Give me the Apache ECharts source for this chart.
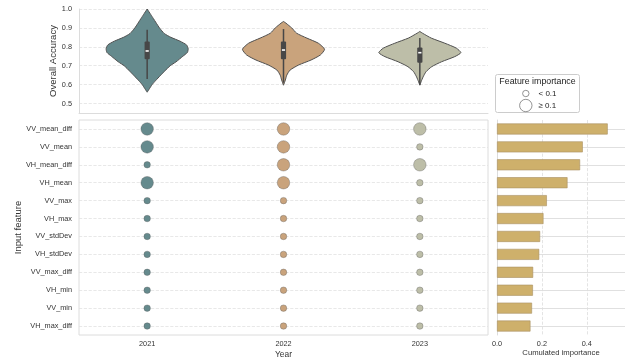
<!DOCTYPE html>
<html><head><meta charset="utf-8">
<script src="https://cdn.jsdelivr.net/npm/echarts@6/dist/echarts.min.js"></script>
<style>html,body{margin:0;padding:0;background:#fff}#c{width:625px;height:360px}</style>
</head><body><div id="c"></div>
<script>
// ---- data ----
const years = ['2021', '2022', '2023'];
const features = ['VV_mean_diff', 'VV_mean', 'VH_mean_diff', 'VH_mean', 'VV_max', 'VH_max',
  'VV_stdDev', 'VH_stdDev', 'VV_max_diff', 'VH_min', 'VV_min', 'VH_max_diff'];
const cumulatedImportance = [0.493, 0.382, 0.370, 0.314, 0.222, 0.207, 0.192, 0.188, 0.161, 0.160, 0.156, 0.149];
const importance2021 = [0.17, 0.15, 0.09, 0.12, 0.07, 0.07, 0.065, 0.06, 0.055, 0.05, 0.05, 0.05];
const importance2022 = [0.16, 0.16, 0.15, 0.12, 0.075, 0.065, 0.06, 0.06, 0.05, 0.055, 0.05, 0.045];
const importance2023 = [0.163, 0.072, 0.13, 0.074, 0.077, 0.072, 0.067, 0.068, 0.056, 0.055, 0.056, 0.054];
const importanceThreshold = 0.1;
// violin densities: [accuracy, relative half-width]
const violin2021 = [[1.0, 0], [0.97, 0.09], [0.95, 0.15], [0.9, 0.3], [0.87, 0.42], [0.85, 0.58], [0.83, 0.8], [0.81, 0.96], [0.79, 1.0], [0.77, 0.98], [0.75, 0.87], [0.72, 0.7], [0.7, 0.56], [0.67, 0.42], [0.65, 0.33], [0.62, 0.2], [0.6, 0.12], [0.58, 0.06], [0.56, 0]];
const violin2022 = [[0.934, 0], [0.925, 0.06], [0.9, 0.2], [0.872, 0.32], [0.846, 0.57], [0.819, 0.85], [0.787, 1.0], [0.757, 0.9], [0.73, 0.67], [0.704, 0.37], [0.677, 0.16], [0.65, 0.08], [0.624, 0.045], [0.597, 0]];
const violin2023 = [[0.881, 0], [0.872, 0.065], [0.846, 0.28], [0.819, 0.61], [0.793, 0.89], [0.769, 1.0], [0.748, 0.85], [0.721, 0.53], [0.695, 0.29], [0.668, 0.15], [0.641, 0.08], [0.615, 0.03], [0.597, 0]];
// box stats: [whisker low, q1, median, q3, whisker high]
const box2021 = [0.63, 0.734, 0.778, 0.828, 0.89];
const box2022 = [0.61, 0.734, 0.783, 0.828, 0.894];
const box2023 = [0.60, 0.716, 0.769, 0.796, 0.846];
const legendLabels = ['< 0.1', '≥ 0.1'];

// ---- styles ----
const FONT = 'Liberation Sans, Arial, sans-serif';
const yearColors = ['#658a8d', '#c9a37c', '#bdbea8'];
const violins = [violin2021, violin2022, violin2023];
const boxes = [box2021, box2022, box2023];
const importances = [importance2021, importance2022, importance2023];

function renderViolin(params, api) {
  const i = params.dataIndex;
  const dens = violins[i];
  const st = boxes[i];
  const band = api.size([1, 0])[0];
  const maxHalf = band * 0.301;
  const cx = api.coord([i, 0.75])[0];
  const right = dens.map(d => [cx + d[1] * maxHalf, api.coord([i, d[0]])[1]]);
  const left = dens.slice().reverse().map(d => [cx - d[1] * maxHalf, api.coord([i, d[0]])[1]]);
  const y = v => api.coord([i, v])[1];
  return {
    type: 'group',
    children: [
      { type: 'polygon', shape: { points: right.concat(left), smooth: 0.2 },
        style: { fill: yearColors[i], stroke: '#505050', lineWidth: 1 } },
      { type: 'line', shape: { x1: cx, y1: y(st[0]), x2: cx, y2: y(st[4]) },
        style: { stroke: '#474747', lineWidth: 1.5 } },
      { type: 'rect', shape: { x: cx - 2.6, y: y(st[3]), width: 5.2, height: y(st[1]) - y(st[3]), r: 1 },
        style: { fill: '#474747' } },
      { type: 'rect', shape: { x: cx - 1.6, y: y(st[2]) - 0.8, width: 3.2, height: 1.6 },
        style: { fill: '#ffffff' } }
    ]
  };
}

const bubbleSeries = years.map((yr, k) => ({
  type: 'scatter', xAxisIndex: 1, yAxisIndex: 1,
  data: features.map((f, j) => [yr, f, importances[k][j]]),
  symbolSize: v => v[2] >= importanceThreshold ? 12.5 : 6.5,
  itemStyle: { color: yearColors[k], borderColor: 'rgba(90,90,90,0.6)', borderWidth: 0.6, opacity: 1 },
  z: 3
}));

const chart = echarts.init(document.getElementById('c'), null, { renderer: 'canvas' });
chart.setOption({
  animation: false,
  textStyle: { fontFamily: FONT },
  grid: [
    { left: 79, top: 9, width: 409, height: 104, outerBoundsMode: 'none', containLabel: false },
    { left: 79, top: 120, width: 409, height: 215, show: true, borderColor: '#dcdcdc', borderWidth: 1, outerBoundsMode: 'none', containLabel: false },
    { left: 497, top: 120, width: 128, height: 215, outerBoundsMode: 'none', containLabel: false }
  ],
  xAxis: [
    { gridIndex: 0, type: 'category', data: years, axisLine: { lineStyle: { color: '#dcdcdc' } },
      axisTick: { show: false }, axisLabel: { show: false }, splitLine: { show: false } },
    { gridIndex: 1, type: 'category', data: years, axisLine: { show: false }, axisTick: { show: false },
      axisLabel: { color: '#333', fontSize: 7.3, margin: 5, fontFamily: FONT },
      splitLine: { show: false },
      name: 'Year', nameLocation: 'middle', nameGap: 16, nameMoveOverlap: false,
      nameTextStyle: { fontSize: 8.4, color: '#333', fontFamily: FONT } },
    { gridIndex: 2, type: 'value', min: 0, max: 0.57, interval: 0.2,
      axisLine: { show: false }, axisTick: { show: false },
      axisLabel: { color: '#333', fontSize: 7.3, margin: 5, showMaxLabel: false, formatter: v => v.toFixed(1), fontFamily: FONT },
      splitLine: { show: true, showMaxLine: false, lineStyle: { type: 'dashed', color: '#dddddd', width: 0.8 } },
      name: 'Cumulated importance', nameLocation: 'middle', nameGap: 14, nameMoveOverlap: false,
      nameTextStyle: { fontSize: 7.7, color: '#333', fontFamily: FONT } }
  ],
  yAxis: [
    { gridIndex: 0, type: 'value', min: 0.45, max: 1.0,
      axisLine: { show: true, lineStyle: { color: '#dcdcdc' } }, axisTick: { show: false },
      axisLabel: { color: '#333', fontSize: 7.3, margin: 7, showMinLabel: false, formatter: v => v.toFixed(1), fontFamily: FONT },
      splitLine: { show: true, lineStyle: { type: 'dashed', color: '#e2e2e2', width: 0.8 } },
      name: 'Overall Accuracy', nameLocation: 'middle', nameGap: 21, nameMoveOverlap: false,
      nameTextStyle: { fontSize: 9.5, color: '#333', fontFamily: FONT } },
    { gridIndex: 1, type: 'category', data: features, inverse: true,
      axisLine: { show: false }, axisTick: { show: false },
      axisLabel: { color: '#333', fontSize: 7.3, margin: 7, fontFamily: FONT },
      splitLine: { show: true, alignWithLabel: true, lineStyle: { type: 'dashed', color: '#e2e2e2', width: 0.8 } },
      name: 'Input feature', nameLocation: 'middle', nameGap: 56, nameMoveOverlap: false,
      nameTextStyle: { fontSize: 9.5, color: '#333', fontFamily: FONT } },
    { gridIndex: 2, type: 'category', data: features, inverse: true,
      axisLine: { show: true, lineStyle: { color: '#dcdcdc' } }, axisTick: { show: false },
      axisLabel: { show: false },
      splitLine: { show: true, alignWithLabel: true, lineStyle: { color: '#e0e0e0', width: 1 } } }
  ],
  series: [
    { type: 'custom', xAxisIndex: 0, yAxisIndex: 0, renderItem: renderViolin,
      data: years.map((y, i) => [i, boxes[i][2]]), z: 3 },
    ...bubbleSeries,
    { type: 'bar', xAxisIndex: 2, yAxisIndex: 2, data: cumulatedImportance, barWidth: 11,
      itemStyle: { color: '#ceb06b', borderColor: '#a99163', borderWidth: 0.6 }, z: 3 }
  ],
  graphic: [
    { type: 'group', left: 495, top: 74, children: [
      { type: 'rect', shape: { x: 0, y: 0, width: 84, height: 38, r: 2 },
        style: { fill: '#fff', stroke: '#cccccc', lineWidth: 1 } },
      { type: 'text', x: 42, y: 7, style: { text: 'Feature importance', font: '8.8px ' + FONT, fill: '#222', align: 'center', verticalAlign: 'middle' } },
      { type: 'circle', shape: { cx: 30.3, cy: 19, r: 3.2 }, style: { fill: '#fff', stroke: '#666', lineWidth: 0.7 } },
      { type: 'text', x: 43, y: 19, style: { text: legendLabels[0], font: '8px ' + FONT, fill: '#222', verticalAlign: 'middle' } },
      { type: 'circle', shape: { cx: 30.3, cy: 31, r: 6.2 }, style: { fill: '#fff', stroke: '#666', lineWidth: 0.7 } },
      { type: 'text', x: 43, y: 31, style: { text: legendLabels[1], font: '8px ' + FONT, fill: '#222', verticalAlign: 'middle' } }
    ] }
  ]
});
</script>
</body></html>
